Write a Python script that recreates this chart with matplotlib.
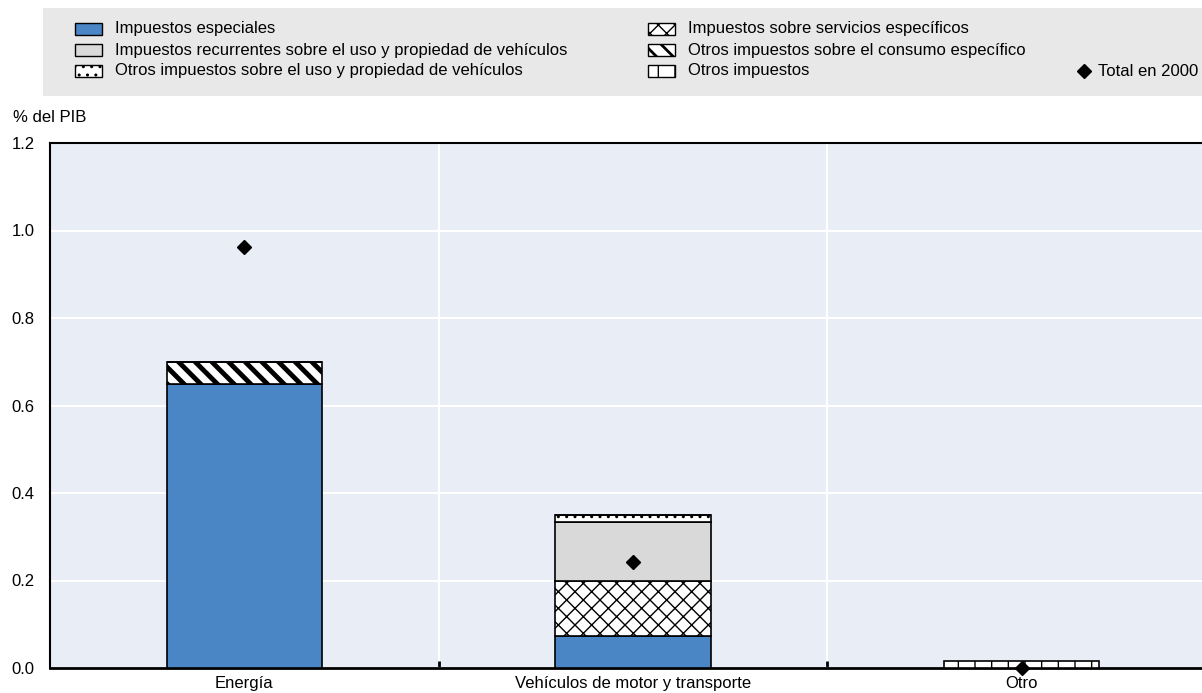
import matplotlib
matplotlib.use("Agg")
import matplotlib.pyplot as plt
from matplotlib.patches import Rectangle
from matplotlib.lines import Line2D
import numpy as np

plt.rcParams['font.family'] = ['Liberation Sans', 'DejaVu Sans']

categories = ["Energía", "Vehículos de motor y transporte", "Otro"]
series_names = [
    "Impuestos especiales",
    "Impuestos sobre servicios específicos",
    "Impuestos recurrentes sobre el uso y propiedad de vehículos",
    "Otros impuestos sobre el consumo específico",
    "Otros impuestos sobre el uso y propiedad de vehículos",
    "Otros impuestos",
]
impuestos_especiales = [0.650, 0.073, 0.0]
servicios_especificos = [0.0, 0.126, 0.0]
recurrentes_vehiculos = [0.0, 0.135, 0.0]
otros_consumo = [0.050, 0.0, 0.0]
otros_uso_vehiculos = [0.0, 0.015, 0.0]
otros_impuestos = [0.0, 0.0, 0.017]
total_2000 = [0.963, 0.243, 0.0]

series_values = [impuestos_especiales, servicios_especificos, recurrentes_vehiculos,
                 otros_consumo, otros_uso_vehiculos, otros_impuestos]
styles = [
    dict(color="#4a86c6", hatch=None, hlw=1.0),
    dict(color="white", hatch="xx", hlw=1.0),
    dict(color="#d9d9d9", hatch=None, hlw=1.0),
    dict(color="white", hatch="\\\\", hlw=3.5),
    dict(color="white", hatch="..", hlw=1.0),
    dict(color="white", hatch="|", hlw=1.0),
]

FS = 12
W, H = 1202, 693
fig = plt.figure(figsize=(W / 100, H / 100), dpi=100)
ax = fig.add_axes([50 / W, (H - 668) / H, 1166 / W, (668 - 143) / H])
ax.set_facecolor("#e9edf5")

x = np.arange(len(categories))
bottom = np.zeros(len(categories))
for vals, st in zip(series_values, styles):
    with plt.rc_context({'hatch.linewidth': st['hlw']}):
        ax.bar(x, vals, width=0.4, bottom=bottom, color=st['color'],
               edgecolor="black", linewidth=1.2, hatch=st['hatch'], zorder=3)
    bottom = bottom + np.array(vals)

ax.plot(x, total_2000, linestyle="none", marker="D", color="black",
        markersize=7, zorder=5, clip_on=False)

ax.set_xlim(-0.5, 2.5)
ax.set_ylim(0, 1.2)
ax.set_yticks([0.0, 0.2, 0.4, 0.6, 0.8, 1.0, 1.2])
ax.set_yticklabels(["0.0", "0.2", "0.4", "0.6", "0.8", "1.0", "1.2"])
ax.tick_params(axis='y', length=0, labelsize=FS, pad=11)
ax.set_xticks(x)
ax.set_xticklabels(categories)
ax.tick_params(axis='x', length=0, labelsize=FS, pad=6)
ax.set_xticks([0.5, 1.5], minor=True)
ax.tick_params(axis='x', which='minor', length=5, width=2, direction='in', color='black')
ax.grid(axis='y', color='white', linewidth=1.5, zorder=0)
for xv in [0.5, 1.5]:
    ax.axvline(xv, color='white', linewidth=1.5, zorder=0)
ax.set_axisbelow(True)
for s in ['left', 'top', 'bottom', 'right']:
    ax.spines[s].set_color('black')
    ax.spines[s].set_linewidth(1.5)
ax.spines['bottom'].set_linewidth(2)

fig.text(13 / W, 1 - 118 / H, "% del PIB", fontsize=FS, va='center', ha='left')

# Legend
fig.patches.append(Rectangle((43 / W, 1 - 96 / H), (W - 43) / W, 88 / H,
                             transform=fig.transFigure, facecolor="#e8e8e8",
                             edgecolor='none', zorder=0))
leg_order = [(0, 75, 29), (2, 75, 50), (4, 75, 71), (1, 648, 29), (3, 648, 50), (5, 648, 71)]
for idx, hx, hy in leg_order:
    st = styles[idx]
    with plt.rc_context({'hatch.linewidth': min(st['hlw'], 2.0)}):
        r = Rectangle((hx / W, 1 - (hy + 6) / H), 27 / W, 12 / H,
                      transform=fig.transFigure, facecolor=st['color'],
                      edgecolor='black', linewidth=1.0, hatch=st['hatch'], zorder=2)
    fig.patches.append(r)
    fig.text((hx + 40) / W, 1 - hy / H, series_names[idx], fontsize=FS,
             va='center', ha='left')
fig.text(1198 / W, 1 - 71 / H, "Total en 2000", fontsize=FS, va='center', ha='right')
fig.lines.append(Line2D([1084 / W], [1 - 71 / H], marker='D', color='black',
                        markersize=7, linestyle='none', transform=fig.transFigure))

fig.savefig("out.png", dpi=100)
